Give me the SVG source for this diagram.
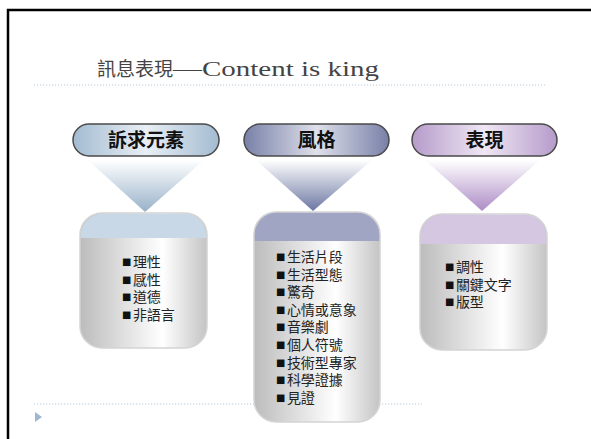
<svg xmlns="http://www.w3.org/2000/svg" width="591" height="439" viewBox="0 0 591 439">
<defs>
<style>
.dot{stroke:#b9c9d9;stroke-width:1.2;stroke-dasharray:1.2 1.8;fill:none}
.pill{stroke:#4a4a4a;stroke-width:1.5}
.pt{font-family:"Noto Sans CJK TC","Noto Sans CJK SC",sans-serif;font-weight:bold;font-size:19px;fill:#111;text-anchor:middle}
.bt{font-family:"Liberation Sans","Noto Sans CJK TC","Noto Sans CJK SC",sans-serif;font-size:14px;fill:#222}
.sq{font-size:15.5px;fill:#111}
.body{fill:url(#gBody);stroke:#d4d4d4;stroke-width:1.5}
</style>
<linearGradient id="gP1" x1="0" y1="0" x2="1" y2="0"><stop offset="0" stop-color="#a3bbd1"/><stop offset="0.5" stop-color="#e9eff5"/><stop offset="1" stop-color="#a3bbd1"/></linearGradient>
<linearGradient id="gP2" x1="0" y1="0" x2="1" y2="0"><stop offset="0" stop-color="#7880a8"/><stop offset="0.5" stop-color="#dfe0ea"/><stop offset="1" stop-color="#7880a8"/></linearGradient>
<linearGradient id="gP3" x1="0" y1="0" x2="1" y2="0"><stop offset="0" stop-color="#b59bca"/><stop offset="0.5" stop-color="#efe7f4"/><stop offset="1" stop-color="#b59bca"/></linearGradient>
<linearGradient id="gT1" x1="0" y1="0" x2="0" y2="1"><stop offset="0" stop-color="#ffffff"/><stop offset="1" stop-color="#98b1c9"/></linearGradient>
<linearGradient id="gT2" x1="0" y1="0" x2="0" y2="1"><stop offset="0" stop-color="#ffffff"/><stop offset="1" stop-color="#6c77a2"/></linearGradient>
<linearGradient id="gT3" x1="0" y1="0" x2="0" y2="1"><stop offset="0" stop-color="#ffffff"/><stop offset="1" stop-color="#ad8cc6"/></linearGradient>
<linearGradient id="gBody" x1="0" y1="0" x2="1" y2="0"><stop offset="0" stop-color="#bcbcbc"/><stop offset="0.65" stop-color="#ffffff"/><stop offset="1" stop-color="#c4c4c4"/></linearGradient>
</defs>
<rect x="8" y="10" width="620" height="470" fill="#ffffff" stroke="#000" stroke-width="2.5"/>
<text x="97" y="76" fill="#444"><tspan font-family="'Noto Sans CJK TC','Noto Sans CJK SC',sans-serif" font-size="19">訊息表現</tspan><tspan x="173" font-family="'Liberation Serif',serif" font-size="22" textLength="206" lengthAdjust="spacingAndGlyphs">—Content is king</tspan></text>
<g id="connectors">
<line class="dot" x1="34" y1="85" x2="545" y2="85"/>
<line class="dot" x1="34" y1="404" x2="422" y2="404"/>
<polygon points="35,412 42,417 35,422" fill="#9fb8d0"/>
<polygon points="88,160 204,160 145,212" fill="url(#gT1)"/>
<polygon points="256,160 372,160 313,211" fill="url(#gT2)"/>
<polygon points="425,160 540,160 482,211" fill="url(#gT3)"/>
</g>
<g id="pill1"><rect class="pill" x="73" y="124" width="146" height="32" rx="16" fill="url(#gP1)"/><text class="pt" x="146" y="147">訴求元素</text></g>
<g id="pill2"><rect class="pill" x="244" y="124" width="145" height="32" rx="16" fill="url(#gP2)"/><text class="pt" x="316.5" y="147">風格</text></g>
<g id="pill3"><rect class="pill" x="412" y="124" width="145" height="32" rx="16" fill="url(#gP3)"/><text class="pt" x="484.5" y="147">表現</text></g>
<g id="box1">
<rect class="body" x="80" y="213" width="127" height="135" rx="22"/>
<path d="M80.75,238 L80.75,235 A22,22 0 0 1 102,213.75 L185,213.75 A22,22 0 0 1 206.25,235 L206.25,238 Z" fill="#c9d8e6"/>
<text class="bt" x="122" y="267"><tspan class="sq">■</tspan><tspan dx="1.5">理性</tspan></text>
<text class="bt" x="122" y="284.5"><tspan class="sq">■</tspan><tspan dx="1.5">感性</tspan></text>
<text class="bt" x="122" y="302"><tspan class="sq">■</tspan><tspan dx="1.5">道德</tspan></text>
<text class="bt" x="122" y="319.5"><tspan class="sq">■</tspan><tspan dx="1.5">非語言</tspan></text>
</g>
<g id="box2">
<rect class="body" x="254" y="212" width="126" height="210" rx="22"/>
<path d="M254.75,241 L254.75,234 A22,22 0 0 1 276,212.75 L358,212.75 A22,22 0 0 1 379.25,234 L379.25,241 Z" fill="#9fa5c3"/>
<text class="bt" x="276" y="262"><tspan class="sq">■</tspan><tspan dx="1.5">生活片段</tspan></text>
<text class="bt" x="276" y="279.6"><tspan class="sq">■</tspan><tspan dx="1.5">生活型態</tspan></text>
<text class="bt" x="276" y="297.2"><tspan class="sq">■</tspan><tspan dx="1.5">驚奇</tspan></text>
<text class="bt" x="276" y="314.8"><tspan class="sq">■</tspan><tspan dx="1.5">心情或意象</tspan></text>
<text class="bt" x="276" y="332.4"><tspan class="sq">■</tspan><tspan dx="1.5">音樂劇</tspan></text>
<text class="bt" x="276" y="350"><tspan class="sq">■</tspan><tspan dx="1.5">個人符號</tspan></text>
<text class="bt" x="276" y="367.6"><tspan class="sq">■</tspan><tspan dx="1.5">技術型專家</tspan></text>
<text class="bt" x="276" y="385.2"><tspan class="sq">■</tspan><tspan dx="1.5">科學證據</tspan></text>
<text class="bt" x="276" y="402.8"><tspan class="sq">■</tspan><tspan dx="1.5">見證</tspan></text>
</g>
<g id="box3">
<rect class="body" x="420" y="214" width="127" height="136" rx="22"/>
<path d="M420.75,244 L420.75,236 A22,22 0 0 1 442,214.75 L525,214.75 A22,22 0 0 1 546.25,236 L546.25,244 Z" fill="#d5c6e1"/>
<text class="bt" x="445" y="272"><tspan class="sq">■</tspan><tspan dx="1.5">調性</tspan></text>
<text class="bt" x="445" y="289.5"><tspan class="sq">■</tspan><tspan dx="1.5">關鍵文字</tspan></text>
<text class="bt" x="445" y="307"><tspan class="sq">■</tspan><tspan dx="1.5">版型</tspan></text>
</g>
</svg>
